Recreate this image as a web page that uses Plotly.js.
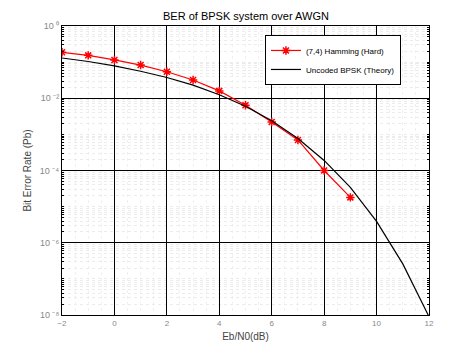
<!DOCTYPE html>
<html><head><meta charset="utf-8">
<script src="https://cdn.plot.ly/plotly-3.0.1.min.js"></script>
<style>html,body{margin:0;padding:0;background:#fff}#plot{width:473px;height:354px}</style>
</head><body><div id="plot"></div>
<script>
const hammingEbN0 = [-2,-1,0,1,2,3,4,5,6,7,8,9];
const hammingBER = [0.187,0.154,0.115,0.083,0.054,0.032,0.016,0.0064,0.0022,7.0e-4,1.0e-4,1.8e-5];
const uncodedEbN0 = [-2,-1,0,1,2,3,4,5,6,7,8,9,10,11,12];
const uncodedBER = [0.13,0.104,0.079,0.056,0.0375,0.023,0.0125,0.006,0.0024,7.7e-4,1.9e-4,3.4e-5,3.9e-6,2.6e-7,9e-9];
const xTicks = [-2,0,2,4,6,8,10,12];
const yTickVals = [1,1e-2,1e-4,1e-6,1e-8];
const yTickText = ['10 \u2070','10 \u207B\u00B2','10 \u207B\u2074','10 \u207B\u2076','10 \u207B\u2078'];
const legendNames = ['(7,4) Hamming (Hard)','Uncoded BPSK (Theory)'];

const yMinor = [];
for (let e=-8; e<0; e++) for (let m=1; m<10; m++) { if (m===1 && (e%2===0)) continue; yMinor.push(m*Math.pow(10,e)); }

const traces = [
  {x: hammingEbN0, y: hammingBER, name: legendNames[0], mode: 'lines+markers',
   line: {color: '#ff0000', width: 1.2},
   marker: {symbol: 'asterisk-open', size: 7, color: '#ff0000', line: {color: '#ff0000', width: 1.5}}},
  {x: uncodedEbN0, y: uncodedBER, name: legendNames[1], mode: 'lines',
   line: {color: '#000000', width: 1.2}}
];
const layout = {
  width: 473, height: 354,
  margin: {l: 62, r: 44, t: 26, b: 39},
  paper_bgcolor: '#fff', plot_bgcolor: '#fff',
  font: {family: 'Liberation Sans, Arial, sans-serif', color: '#000'},
  title: {text: 'BER of BPSK system over AWGN', font: {size: 11, color: '#000'}, x: 0.52, xanchor: 'center', y: 0.955, yanchor: 'middle'},
  showlegend: true,
  legend: {x: 0.553, y: 0.969, xanchor: 'left', yanchor: 'top', bgcolor: '#fff', bordercolor: '#000', borderwidth: 1,
           font: {size: 8, color: '#000'}, tracegroupgap: 0},
  xaxis: {range: [-2, 12], tickmode: 'array', tickvals: xTicks, showgrid: true, gridcolor: '#000', gridwidth: 1,
          zeroline: false, showline: true, linecolor: '#000', linewidth: 1, mirror: 'allticks',
          ticks: 'inside', ticklen: 3, tickcolor: '#000', tickfont: {size: 8, color: '#888'},
          minor: {dtick: 0.5, showgrid: true, gridcolor: '#f0f0f0', griddash: 'dot', gridwidth: 1, ticks: ''},
          title: {text: 'Eb/N0(dB)', font: {size: 10, color: '#444'}, standoff: 6}},
  yaxis: {type: 'log', range: [-8, 0], tickmode: 'array', tickvals: yTickVals, ticktext: yTickText,
          showgrid: true, gridcolor: '#000', gridwidth: 1, zeroline: false,
          showline: true, linecolor: '#000', linewidth: 1, mirror: 'allticks',
          ticks: 'inside', ticklen: 4, tickcolor: '#000', tickfont: {size: 9, color: '#888'},
          minor: {tickmode: 'array', tickvals: yMinor, showgrid: true, gridcolor: '#ececec', griddash: 'dot', gridwidth: 1,
                  ticks: 'inside', ticklen: 2, tickcolor: '#000'},
          title: {text: 'Bit Error Rate (Pb)', font: {size: 10, color: '#444'}, standoff: 6}}
};
Plotly.newPlot('plot', traces, layout, {displayModeBar: false, staticPlot: true});
</script></body></html>
